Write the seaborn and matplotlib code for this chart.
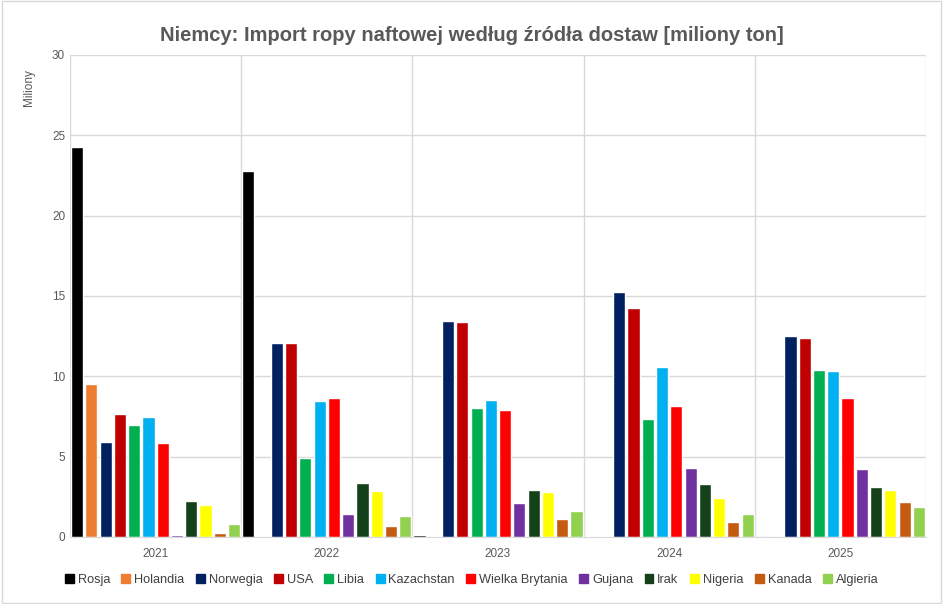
import pandas as pd
import numpy as np
import seaborn as sns
import matplotlib.pyplot as plt
from matplotlib.patches import Rectangle

years = ['2021', '2022', '2023', '2024', '2025']
countries = ['Rosja', 'Holandia', 'Norwegia', 'USA', 'Libia', 'Kazachstan',
             'Wielka Brytania', 'Gujana', 'Irak', 'Nigeria', 'Kanada', 'Algieria']

# values, miliony ton, one list per year
v2021 = [24.3, 9.5, 5.9, 7.65, 6.95, 7.45, 5.85, 0.1, 2.25, 2.0, 0.25, 0.8]
v2022 = [22.8, 0.05, 12.1, 12.1, 4.9, 8.45, 8.65, 1.45, 3.35, 2.85, 0.7, 1.3]
v2023 = [0.15, 0.05, 13.45, 13.4, 8.05, 8.5, 7.9, 2.1, 2.9, 2.8, 1.1, 1.6]
v2024 = [0.08, 0.05, 15.25, 14.25, 7.35, 10.6, 8.15, 4.3, 3.3, 2.45, 0.9, 1.4]
v2025 = [0.0, 0.05, 12.5, 12.4, 10.4, 10.3, 8.65, 4.2, 3.1, 2.95, 2.2, 1.85]

colors = ['#000000', '#ED7D31', '#002060', '#C00000', '#00B050', '#00B0F0',
          '#FF0000', '#7030A0', '#14401A', '#FFFF00', '#C55A11', '#92D050']

rows = []
for y, vals in zip(years, [v2021, v2022, v2023, v2024, v2025]):
    for c, v in zip(countries, vals):
        rows.append({'rok': y, 'kraj': c, 'wartosc': v})
df = pd.DataFrame(rows)

sns.set_style('white')
plt.rcParams['font.family'] = ['Liberation Sans', 'DejaVu Sans']

fig = plt.figure(figsize=(9.43, 6.04), dpi=100)
ax = fig.add_axes([0.0742, 0.111, 0.9078, 0.798])

sns.barplot(data=df, x='rok', y='wartosc', hue='kraj', hue_order=countries,
            palette=colors, width=1.0, gap=0.15, ax=ax, saturation=1, legend=False,
            errorbar=None)

ax.set_xlim(-0.5, 4.5)
ax.set_ylim(0, 30)
ax.set_yticks(np.arange(0, 31, 5))
ax.set_xticks(np.arange(-0.5, 5, 1), minor=True)
ax.grid(True, axis='y', color='#d9d9d9', lw=1)
ax.grid(True, axis='x', which='minor', color='#d9d9d9', lw=1)
ax.set_axisbelow(True)
for s in ['top', 'right', 'left']:
    ax.spines[s].set_visible(False)
ax.spines['bottom'].set_color('#d9d9d9')
ax.tick_params(axis='both', which='both', length=0, colors='#595959', labelsize=8.5)
ax.tick_params(axis='x', pad=8)
ax.set_xlabel('')
ax.set_ylabel('')

fig.text(0.031, 0.855, 'Miliony', rotation=90, ha='center', va='center',
         color='#595959', fontsize=8.5)
fig.text(0.5, 0.942, 'Niemcy: Import ropy naftowej według źródła dostaw [miliony ton]',
         ha='center', va='center', color='#595959', fontsize=14.5, fontweight='bold')

handles = [Rectangle((0, 0), 1, 1, color=c) for c in colors]
fig.legend(handles, countries, loc='center', bbox_to_anchor=(0.5, 0.04), ncol=12,
           frameon=False, handlelength=0.7, handleheight=0.7,
           handletextpad=0.3, columnspacing=0.9, labelcolor='#404040',
           prop={'family': ['Liberation Sans', 'DejaVu Sans'], 'size': 9.2})

fig.patches.append(Rectangle((0.002, 0.002), 0.996, 0.996, transform=fig.transFigure,
                             fill=False, edgecolor='#d9d9d9', lw=1))

fig.savefig('out.png', dpi=100)
